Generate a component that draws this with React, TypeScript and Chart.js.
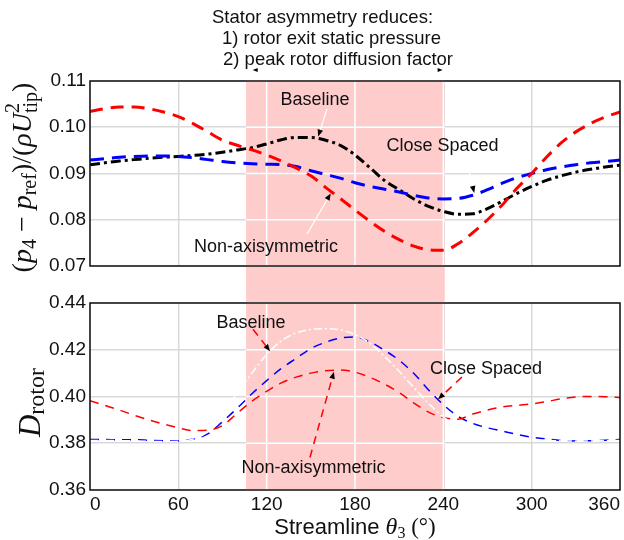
import React, { useEffect, useRef } from "react";
import { Chart, registerables } from "chart.js";

Chart.register(...registerables);

// ---------------- data ----------------
const THETA = [0, 10, 20, 30, 40, 50, 60, 70, 80, 90, 100, 110, 120, 130, 140, 150, 160, 170, 180,
  190, 200, 210, 220, 230, 240, 250, 260, 270, 280, 290, 300, 310, 320, 330, 340, 350, 360];

// top panel: (p4 - pref)/(rho U_tip^2)
const P4_NONAXI = [0.1034, 0.1040, 0.1044, 0.1044, 0.1040, 0.1033, 0.1023, 0.1008, 0.0990, 0.0972,
  0.0961, 0.0951, 0.0940, 0.0927, 0.0912, 0.0895, 0.0870, 0.0846, 0.0821, 0.0797, 0.0775, 0.0757,
  0.0743, 0.0735, 0.0734, 0.0748, 0.0772, 0.0800, 0.0832, 0.0868, 0.0900, 0.0935, 0.0966, 0.0990,
  0.1008, 0.1022, 0.1033];
const P4_BASELINE = [0.0919, 0.0923, 0.0927, 0.0930, 0.0933, 0.0935, 0.0937, 0.0939, 0.0942, 0.0946,
  0.0951, 0.0956, 0.0964, 0.0973, 0.0978, 0.0978, 0.0972, 0.0961, 0.0940, 0.0913, 0.0885, 0.0865,
  0.0845, 0.0829, 0.0818, 0.0812, 0.0813, 0.0824, 0.0840, 0.0857, 0.0872, 0.0885, 0.0895, 0.0903,
  0.0909, 0.0914, 0.0918];
const P4_CLOSE = [0.0929, 0.0932, 0.0935, 0.0937, 0.0938, 0.0938, 0.0937, 0.0934, 0.0930, 0.0926,
  0.0923, 0.0921, 0.0920, 0.0919, 0.0915, 0.0906, 0.0898, 0.0890, 0.0880, 0.0872, 0.0866, 0.0860,
  0.0853, 0.0847, 0.0845, 0.0846, 0.0853, 0.0865, 0.0879, 0.0891, 0.0900, 0.0908, 0.0914, 0.0919,
  0.0923, 0.0926, 0.0929];

// bottom panel: D_rotor
const D_NONAXI = [0.3982, 0.3962, 0.3942, 0.3920, 0.3900, 0.3882, 0.3866, 0.3854, 0.3856, 0.3876,
  0.3928, 0.3980, 0.4022, 0.4058, 0.4083, 0.4100, 0.4110, 0.4113, 0.4104, 0.4082, 0.4053, 0.4017,
  0.3972, 0.3933, 0.3910, 0.3903, 0.3925, 0.3942, 0.3955, 0.3962, 0.3968, 0.3978, 0.3990, 0.3998,
  0.4000, 0.3999, 0.3996];
const D_CLOSE = [0.3816, 0.3816, 0.3815, 0.3815, 0.3813, 0.3811, 0.3810, 0.3818, 0.3840, 0.3892,
  0.3950, 0.4012, 0.4068, 0.4120, 0.4163, 0.4205, 0.4232, 0.4250, 0.4255, 0.4234, 0.4198, 0.4155,
  0.4098, 0.4028, 0.3965, 0.3915, 0.3885, 0.3866, 0.3852, 0.3838, 0.3826, 0.3818, 0.3812, 0.3810,
  0.3811, 0.3813, 0.3816];
const D_BASELINE = [0.3812, 0.3812, 0.3811, 0.3810, 0.3808, 0.3807, 0.3808, 0.3818, 0.3850, 0.3930,
  0.4015, 0.4100, 0.4180, 0.4238, 0.4272, 0.4287, 0.4290, 0.4285, 0.4265, 0.4228, 0.4172, 0.4108,
  0.4038, 0.3970, 0.3912, 0.3876, 0.3855, 0.3840, 0.3828, 0.3820, 0.3815, 0.3812, 0.3810, 0.3809,
  0.3810, 0.3811, 0.3812];

const X_TICKS = [0, 60, 120, 180, 240, 300, 360];
const P4_TICKS = [0.07, 0.08, 0.09, 0.10, 0.11];
const D_TICKS = [0.36, 0.38, 0.40, 0.42, 0.44];
const SHADE = [106, 241];

const ANNOT_LINES = ["Stator asymmetry reduces:", "1) rotor exit static pressure", "2) peak rotor diffusion factor"];

const TOP_LABELS = [
  { text: "Baseline", x: 152.8, y: 0.1059 },
  { text: "Close Spaced", x: 239.5, y: 0.0959 },
  { text: "Non-axisymmetric", x: 119.5, y: 0.0741 },
];
const TOP_ARROWS = [
  { from: [161, 0.1040], to: [155, 0.0980] },
  { from: [147.4, 0.0769], to: [163.5, 0.0857] },
  { from: [254.7, 0.0940], to: [261, 0.0858] },
];
const BOT_LABELS = [
  { text: "Baseline", x: 109.4, y: 0.4313 },
  { text: "Close Spaced", x: 269, y: 0.4117 },
  { text: "Non-axisymmetric", x: 151.8, y: 0.3692 },
];
const BOT_ARROWS = [
  { from: [110.7, 0.4288], to: [122.3, 0.4194] },
  { from: [252.6, 0.4083], to: [236.4, 0.3988] },
  { from: [149.4, 0.3739], to: [165.7, 0.4106] },
];

// ---------------- style ----------------
const SANS = '"Liberation Sans", Arial, Helvetica, sans-serif';
const SERIF = '"Liberation Serif", "Times New Roman", serif';
const PINK = "#ffcccc";
const GRID = "#d9d9d9";
const INK = "#111111";

type Seg = { t: string; size: number; italic?: boolean; sans?: boolean; dy?: number; sub?: Seg };

function fontOf(s: Seg) {
  return `${s.italic ? "italic " : ""}${s.size}px ${s.sans ? SANS : SERIF}`;
}
function segWidth(ctx: CanvasRenderingContext2D, s: Seg) {
  ctx.font = fontOf(s);
  let w = ctx.measureText(s.t).width;
  if (s.sub) {
    ctx.font = fontOf(s.sub);
    w = Math.max(w, ctx.measureText(s.sub.t).width);
  }
  return w;
}
function drawRich(ctx: CanvasRenderingContext2D, segs: Seg[], cx: number, cy: number, rotated: boolean) {
  ctx.save();
  ctx.translate(cx, cy);
  if (rotated) ctx.rotate(-Math.PI / 2);
  const total = segs.reduce((a, s) => a + segWidth(ctx, s), 0);
  let x = -total / 2;
  ctx.textBaseline = "alphabetic";
  ctx.textAlign = "left";
  ctx.fillStyle = INK;
  for (const s of segs) {
    const w = segWidth(ctx, s);
    ctx.font = fontOf(s);
    ctx.fillText(s.t, x, s.dy || 0);
    if (s.sub) {
      ctx.font = fontOf(s.sub);
      ctx.fillText(s.sub.t, x, s.sub.dy || 0);
    }
    x += w;
  }
  ctx.restore();
}

function drawArrow(ctx: CanvasRenderingContext2D, x1: number, y1: number, x2: number, y2: number,
  color: string, dash: number[], width: number) {
  const ang = Math.atan2(y2 - y1, x2 - x1);
  const hl = 7, hw = 2.8;
  const bx = x2 - hl * Math.cos(ang), by = y2 - hl * Math.sin(ang);
  ctx.save();
  ctx.strokeStyle = color;
  ctx.lineWidth = width;
  ctx.setLineDash(dash);
  ctx.beginPath();
  ctx.moveTo(x1, y1);
  ctx.lineTo(bx, by);
  ctx.stroke();
  ctx.setLineDash([]);
  ctx.fillStyle = "#000";
  ctx.beginPath();
  ctx.moveTo(x2, y2);
  ctx.lineTo(bx + hw * Math.sin(ang), by - hw * Math.cos(ang));
  ctx.lineTo(bx - hw * Math.sin(ang), by + hw * Math.cos(ang));
  ctx.closePath();
  ctx.fill();
  ctx.restore();
}

function tri(ctx: CanvasRenderingContext2D, x: number, y: number, dir: number) {
  ctx.save();
  ctx.fillStyle = "#000";
  ctx.beginPath();
  ctx.moveTo(x, y);
  ctx.lineTo(x - dir * 5, y - 2);
  ctx.lineTo(x - dir * 5, y + 2);
  ctx.closePath();
  ctx.fill();
  ctx.restore();
}

function makePlugin(kind: "top" | "bottom", yTicks: number[]) {
  return {
    id: "decor_" + kind,
    beforeDraw(chart: any) {
      const { ctx, chartArea, scales } = chart;
      const xs = scales.x;
      const x0 = xs.getPixelForValue(SHADE[0]);
      const x1 = xs.getPixelForValue(SHADE[1]);
      ctx.save();
      ctx.fillStyle = PINK;
      if (kind === "top") ctx.fillRect(x0, chartArea.top, x1 - x0, chart.height - chartArea.top);
      else ctx.fillRect(x0, 0, x1 - x0, chartArea.bottom);
      ctx.restore();
    },
    beforeDatasetsDraw(chart: any) {
      const { ctx, chartArea, scales } = chart;
      const xs = scales.x, ys = scales.y;
      const x0 = xs.getPixelForValue(SHADE[0]);
      const x1 = xs.getPixelForValue(SHADE[1]);
      ctx.save();
      ctx.strokeStyle = "#ffffff";
      ctx.lineWidth = 1.5;
      ctx.beginPath();
      for (const t of X_TICKS) {
        if (t > SHADE[0] && t < SHADE[1]) {
          const p = xs.getPixelForValue(t);
          ctx.moveTo(p, chartArea.top);
          ctx.lineTo(p, chartArea.bottom);
        }
      }
      for (const t of yTicks) {
        const p = ys.getPixelForValue(t);
        ctx.moveTo(x0, p);
        ctx.lineTo(x1, p);
      }
      ctx.stroke();
      ctx.restore();
    },
    afterDatasetsDraw(chart: any) {
      const { ctx, chartArea } = chart;
      ctx.save();
      ctx.strokeStyle = INK;
      ctx.lineWidth = 1.5;
      ctx.strokeRect(chartArea.left, chartArea.top, chartArea.right - chartArea.left, chartArea.bottom - chartArea.top);
      ctx.restore();
    },
    afterDraw(chart: any) {
      const { ctx, chartArea, scales } = chart;
      const xs = scales.x, ys = scales.y;
      const px = (v: number) => xs.getPixelForValue(v);
      const py = (v: number) => ys.getPixelForValue(v);
      const labels = kind === "top" ? TOP_LABELS : BOT_LABELS;
      const arrows = kind === "top" ? TOP_ARROWS : BOT_ARROWS;
      for (const a of arrows) {
        if (kind === "top") drawArrow(ctx, px(a.from[0]), py(a.from[1]), px(a.to[0]), py(a.to[1]), "#ffffff", [], 1.2);
        else drawArrow(ctx, px(a.from[0]), py(a.from[1]), px(a.to[0]), py(a.to[1]), "#ff0000", [8, 6], 1.5);
      }
      ctx.save();
      ctx.fillStyle = INK;
      ctx.font = `18px ${SANS}`;
      ctx.textAlign = "center";
      ctx.textBaseline = "middle";
      for (const l of labels) ctx.fillText(l.text, px(l.x), py(l.y));
      ctx.restore();

      if (kind === "top") {
        ctx.save();
        ctx.fillStyle = INK;
        ctx.font = `18.5px ${SANS}`;
        ctx.textAlign = "left";
        ctx.textBaseline = "middle";
        const lx = [212, 222, 223];
        const ly = [18, 39, 60];
        ANNOT_LINES.forEach((t, i) => ctx.fillText(t, lx[i], ly[i]));
        ctx.restore();
        tri(ctx, px(110.5), chartArea.top - 11, -1);
        tri(ctx, px(239.5), chartArea.top - 11, 1);
        drawRich(ctx, [
          { t: "(", size: 28 },
          { t: "p", size: 28, italic: true },
          { t: "4", size: 20, dy: 5 },
          { t: " \u2212 ", size: 28 },
          { t: "p", size: 28, italic: true },
          { t: "ref", size: 20, dy: 5 },
          { t: ")/(", size: 28 },
          { t: "\u03c1", size: 28, italic: true },
          { t: "U", size: 28, italic: true },
          { t: "2", size: 20, dy: -12, sub: { t: "tip", size: 20, dy: 6 } },
          { t: ")", size: 28 },
        ], 31, (chartArea.top + chartArea.bottom) / 2 + 4, true);
      } else {
        drawRich(ctx, [
          { t: "D", size: 31, italic: true },
          { t: "rotor", size: 24, dy: 4 },
        ], 40, (chartArea.top + chartArea.bottom) / 2 + 6, true);
        drawRich(ctx, [
          { t: "Streamline ", size: 22, sans: true },
          { t: "\u03b8", size: 24, italic: true },
          { t: "3", size: 16, dy: 4 },
          { t: " (\u00b0)", size: 23 },
        ], (chartArea.left + chartArea.right) / 2, 249, false);
      }
    },
  };
}

function xScale(showLabels: boolean) {
  return {
    type: "linear",
    min: 0,
    max: 360,
    afterBuildTicks: (s: any) => { s.ticks = X_TICKS.map((v) => ({ value: v })); },
    afterFit: (s: any) => { s.height = showLabels ? 50 : 0; },
    grid: { color: GRID, lineWidth: 1.5, drawTicks: false },
    border: { display: false },
    ticks: {
      display: showLabels,
      font: { family: SANS, size: 19 },
      color: INK,
      padding: 3,
      align: "inner",
      maxRotation: 0,
      autoSkip: false,
      callback: (v: any) => String(v),
    },
  };
}

function yScale(min: number, max: number, ticks: number[]) {
  return {
    type: "linear",
    min,
    max,
    afterBuildTicks: (s: any) => { s.ticks = ticks.map((v) => ({ value: v })); },
    afterFit: (s: any) => { s.width = 90; },
    grid: { color: GRID, lineWidth: 1.5, drawTicks: false },
    border: { display: false },
    ticks: {
      font: { family: SANS, size: 19 },
      color: INK,
      padding: 4,
      callback: (v: any) => Number(v).toFixed(2),
    },
  };
}

const pts = (ys: number[]) => THETA.map((x, i) => ({ x, y: ys[i] }));

function line(data: number[], color: string, width: number, dash: number[]) {
  return {
    data: pts(data),
    borderColor: color,
    borderWidth: width,
    borderDash: dash,
    pointRadius: 0,
    fill: false,
    cubicInterpolationMode: "monotone",
  };
}

export default function App() {
  const topRef = useRef<HTMLCanvasElement>(null);
  const botRef = useRef<HTMLCanvasElement>(null);

  useEffect(() => {
    const common = {
      animation: false,
      responsive: false,
      devicePixelRatio: 1,
      events: [],
      plugins: { legend: { display: false }, tooltip: { enabled: false } },
    };
    const c1 = new Chart(topRef.current as HTMLCanvasElement, {
      type: "line",
      data: {
        datasets: [
          line(P4_NONAXI, "#ff0000", 3, [13, 8]),
          line(P4_CLOSE, "#0000ff", 3, [14, 8]),
          line(P4_BASELINE, "#000000", 3, [10, 4, 3, 4]),
        ],
      },
      options: {
        ...common,
        layout: { padding: { top: 81, right: 4, bottom: 19, left: 0 } },
        scales: { x: xScale(false), y: yScale(0.07, 0.11, P4_TICKS) },
      } as any,
      plugins: [makePlugin("top", P4_TICKS)],
    } as any);
    const c2 = new Chart(botRef.current as HTMLCanvasElement, {
      type: "line",
      data: {
        datasets: [
          line(D_BASELINE, "#ffffff", 1.5, [8, 3, 2, 3]),
          line(D_NONAXI, "#ff0000", 1.5, [9, 7]),
          line(D_CLOSE, "#0000ff", 1.5, [9, 7]),
        ],
      },
      options: {
        ...common,
        layout: { padding: { top: 18, right: 4, bottom: 0, left: 0 } },
        scales: { x: xScale(true), y: yScale(0.36, 0.44, D_TICKS) },
      } as any,
      plugins: [makePlugin("bottom", D_TICKS)],
    } as any);
    return () => {
      c1.destroy();
      c2.destroy();
    };
  }, []);

  return (
    <div style={{ position: "absolute", left: 0, top: 0, width: 624, height: 540, background: "#ffffff" }}>
      <canvas ref={topRef} width={624} height={285}
        style={{ position: "absolute", left: 0, top: 0, width: 624, height: 285, display: "block" }} />
      <canvas ref={botRef} width={624} height={255}
        style={{ position: "absolute", left: 0, top: 285, width: 624, height: 255, display: "block" }} />
    </div>
  );
}
